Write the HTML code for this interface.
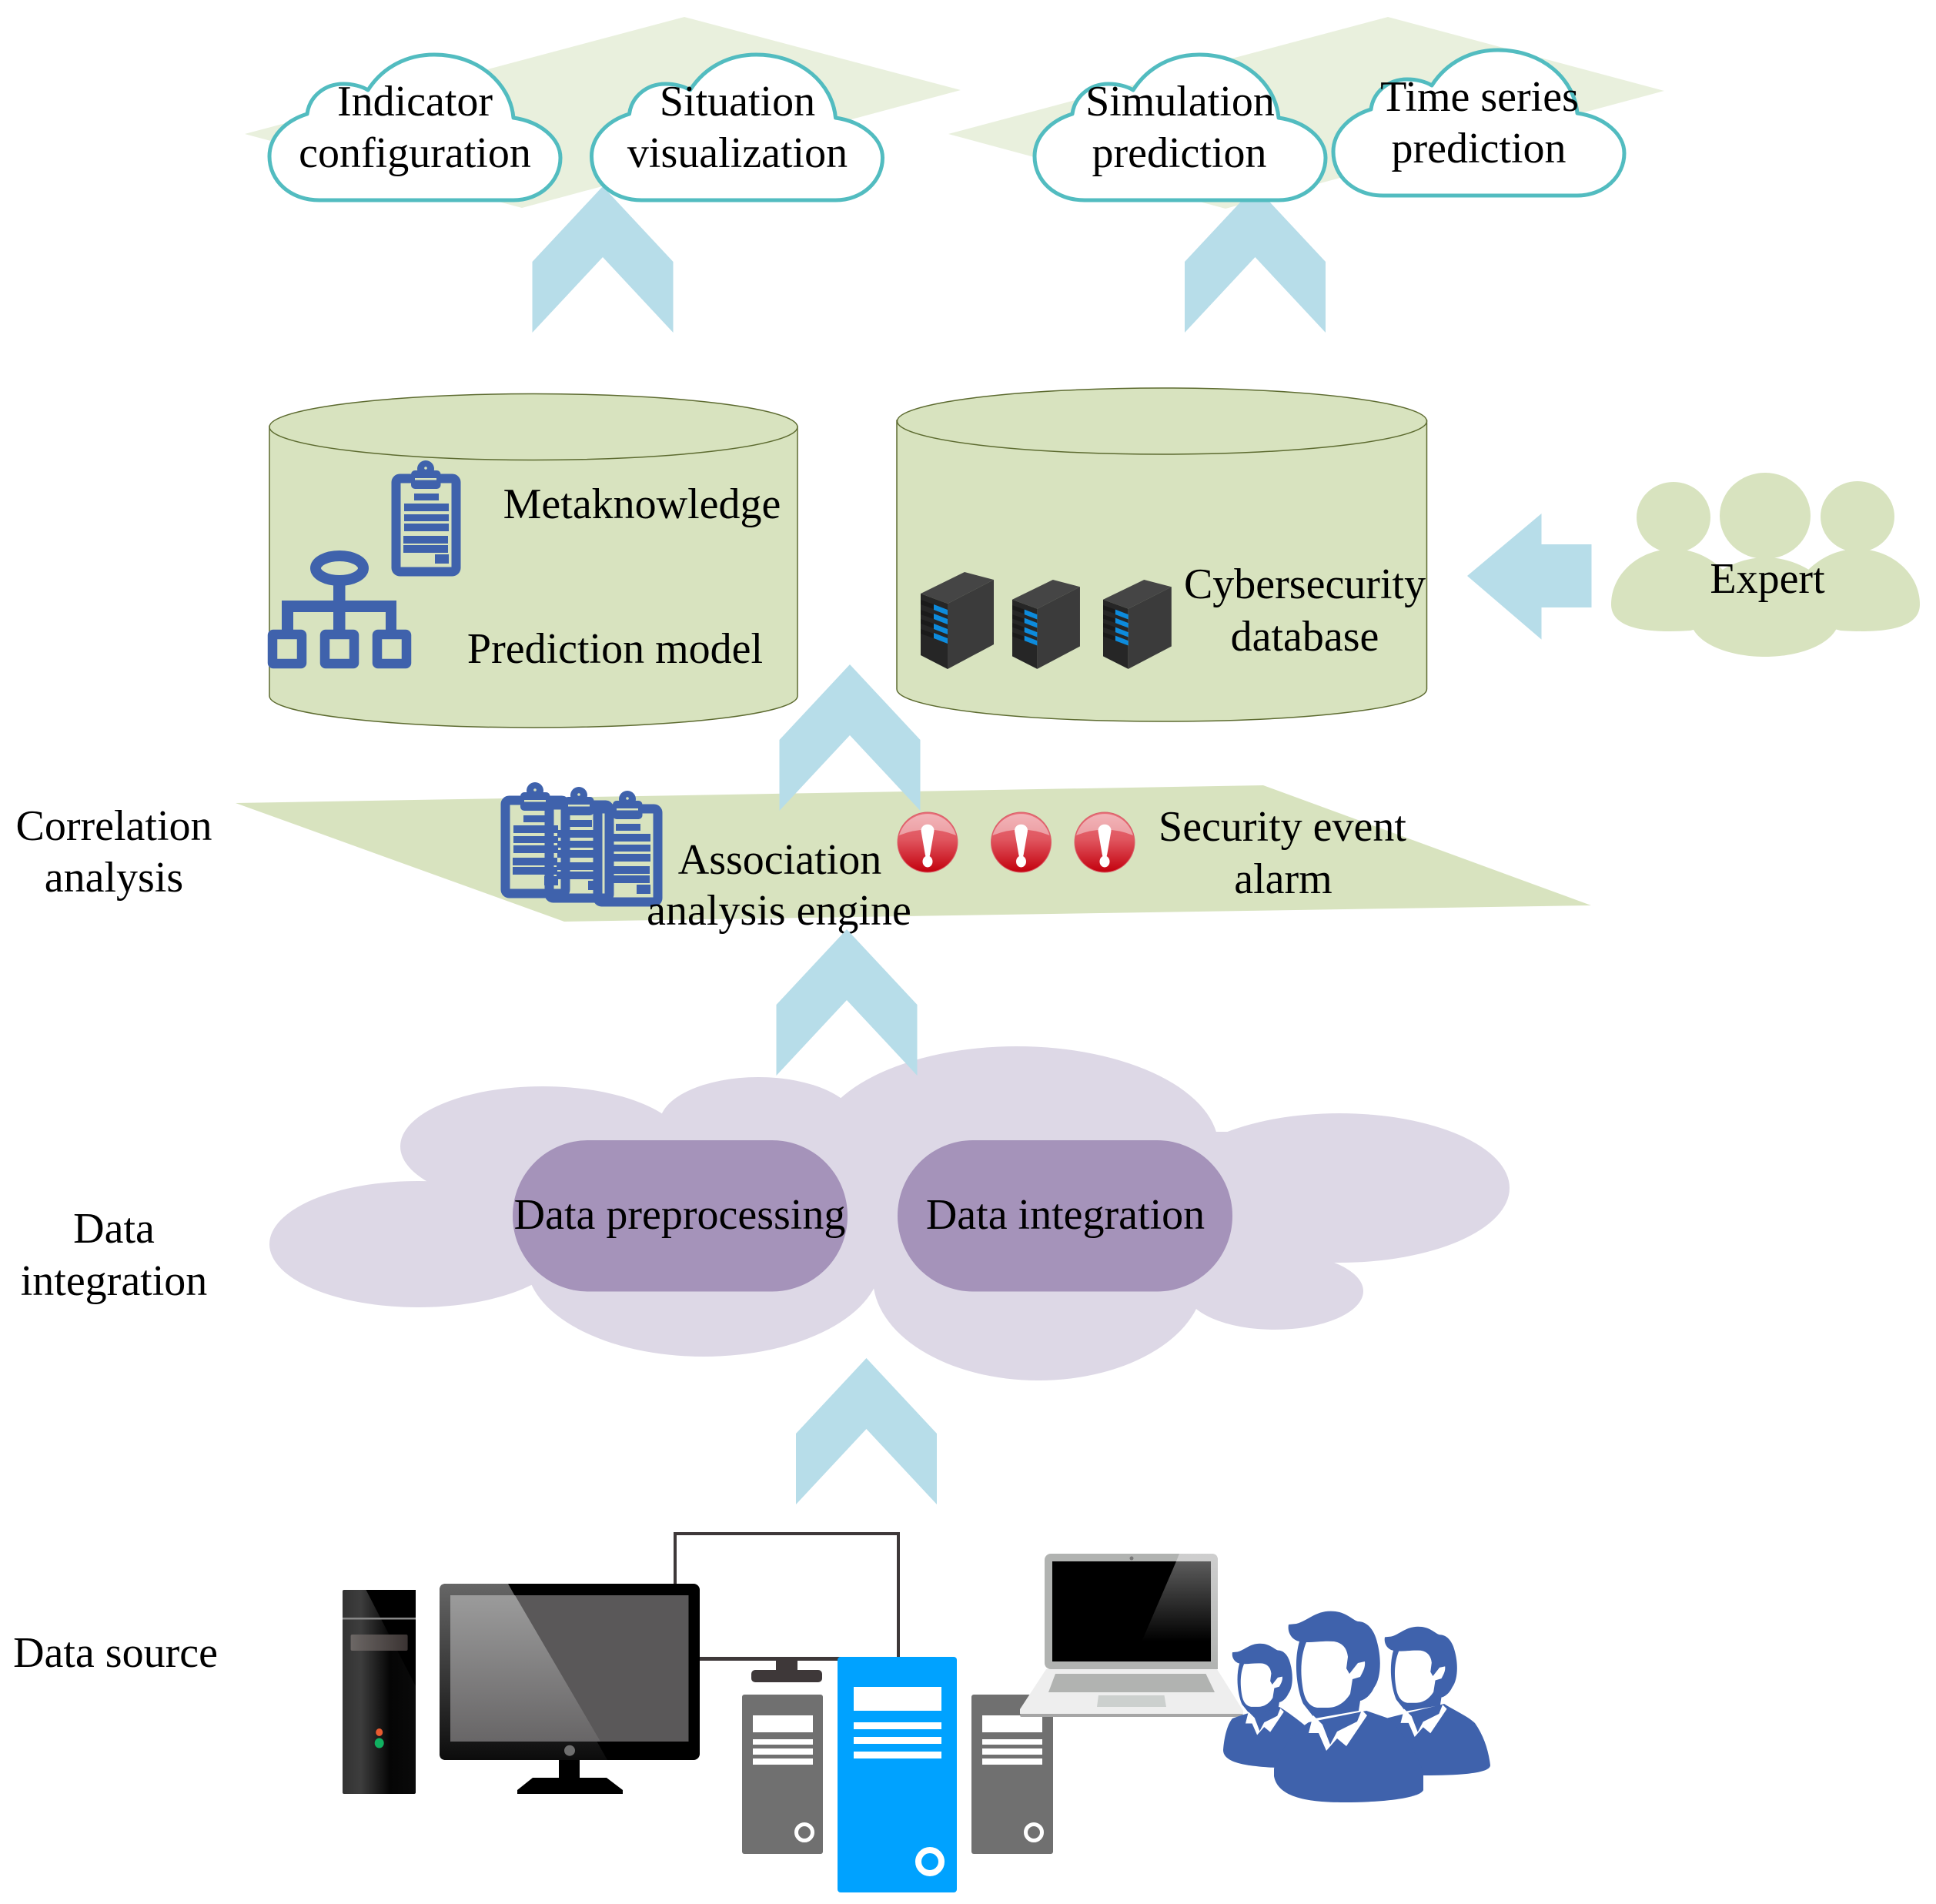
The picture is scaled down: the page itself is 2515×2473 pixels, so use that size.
<!DOCTYPE html>
<html><head><meta charset="utf-8"><style>
html,body{margin:0;padding:0;background:#fff}
svg{display:block}
text{font-family:"Liberation Serif",serif;font-size:56px;fill:#000;text-anchor:middle}
</style></head><body>
<svg width="2515" height="2473" viewBox="0 0 2515 2473" xmlns="http://www.w3.org/2000/svg">
<defs>
<path id="cl" d="M65,189 C27,189 0,164 0,132 C0,107 20,86 49,77 C52,54 72,38 96,38 C108,38 120,41 128,46 C148,15 180,0 214,0 C272,0 313,38 317,82 C352,87 378,109 378,134 C378,164 352,189 317,189 Z" fill="#fff" stroke="#52bcc0" stroke-width="5" stroke-linejoin="round"/>
<path id="chev" d="M0,0 L91.500,98 L91.500,190 L0,92 L-91.500,190 L-91.500,98 Z" fill="#b7dde9"/>
<g id="clip" fill="#3f62ac">
<rect x="5.500" y="5.500" width="78" height="121" rx="5" fill="none" stroke="#3f62ac" stroke-width="12"/>
<circle cx="44" cy="-7" r="11"/>
<rect x="25" y="-5" width="38.500" height="24" rx="5"/>
<rect x="30" y="5" width="28" height="2.500" fill="#d8e3bf"/>
<circle cx="44" cy="-8" r="1.800" fill="#d8e3bf"/>
<rect x="29" y="25" width="32" height="9"/>
<rect x="16" y="38" width="58" height="10"/>
<rect x="16" y="52" width="58" height="9"/>
<rect x="16" y="64" width="58" height="10"/>
<rect x="15" y="80" width="58" height="10"/>
<rect x="15" y="92" width="58" height="10"/>
<rect x="56" y="104" width="18" height="12"/>
</g>
<g id="srv">
<polygon points="0,28 57,0 95,10 35,41" fill="#454545"/>
<polygon points="0,28 35,41 35,126 0,108" fill="#262626"/>
<polygon points="35,41 95,10 95,94 35,126" fill="#3b3b3b"/>
<g fill="#1a1a1a"><polygon points="0,36 17,42 17,48 0,42"/><polygon points="0,49 17,55 17,61 0,55"/><polygon points="0,61 17,67 17,73 0,67"/><polygon points="0,74 17,80 17,86 0,80"/></g>
<g fill="#0d8bdc"><polygon points="17,42 35,49 35,56 17,49"/><polygon points="17,54 35,61 35,68 17,61"/><polygon points="17,67 35,74 35,81 17,74"/><polygon points="17,79 35,86 35,93 17,86"/></g>
</g>
<linearGradient id="ag" x1="0" y1="0" x2="0" y2="1"><stop offset="0" stop-color="#e8707a"/><stop offset=".45" stop-color="#e0565f"/><stop offset="1" stop-color="#c3000d"/></linearGradient>
<linearGradient id="ag2" x1="0" y1="0" x2="0" y2="1"><stop offset="0" stop-color="#f2b4b8"/><stop offset="1" stop-color="#ec9ea3"/></linearGradient>
<g id="al">
<circle cx="0" cy="0" r="39" fill="url(#ag)" stroke="#d9606a" stroke-width="1"/>
<path d="M-37,-9 A38.500,38.500 0 0 1 37,-9 Q0,-24 -37,-9 Z" fill="url(#ag2)"/>
<path d="M-8.500,-15 C-8.500,-26 8.500,-26 8.500,-15 L3,17 C2,20 -2,20 -3,17 Z" fill="#fff"/>
<ellipse cx="0" cy="25" rx="6.500" ry="7.500" fill="#fff"/>
</g>
<linearGradient id="tg" x1="0" y1="0" x2="1" y2="0"><stop offset="0" stop-color="#333"/><stop offset=".25" stop-color="#3d3d3d"/><stop offset=".65" stop-color="#050505"/><stop offset="1" stop-color="#0a0a0a"/></linearGradient>
<linearGradient id="sg" x1="0" y1="0" x2="1" y2="0"><stop offset="0" stop-color="#6c6765"/><stop offset="1" stop-color="#3a3332"/></linearGradient>
<linearGradient id="mg" x1="0" y1="0" x2="0" y2="1"><stop offset="0" stop-color="#9b9b9b"/><stop offset="1" stop-color="#686667"/></linearGradient>
<linearGradient id="bg" x1="0" y1="0" x2="0" y2="1"><stop offset="0" stop-color="#666"/><stop offset=".85" stop-color="#1a1a1a"/><stop offset="1" stop-color="#0c0c0c"/></linearGradient>
<linearGradient id="lg" x1="0" y1="0" x2="0" y2="1"><stop offset="0" stop-color="#5c5c5c"/><stop offset=".8" stop-color="#000"/></linearGradient>
<linearGradient id="lid" x1="0" y1="0" x2="0" y2="1"><stop offset="0" stop-color="#cfcfcf"/><stop offset="1" stop-color="#b1b3b1"/></linearGradient>
<g id="person">
<path d="M1674,2110 L1684,2109 C1700,2105 1710,2090 1735,2093 C1750,2095 1757,2104 1764,2106 C1778,2106 1786,2120 1789,2133 C1795,2155 1794,2180 1785,2192 C1780,2203 1772,2208 1767,2209 L1765,2222 L1708,2232 L1693,2213 C1685,2195 1680,2160 1688,2132 C1678,2130 1672,2120 1674,2110 Z" fill="#3f62ac"/>
<path d="M1697,2133 C1710,2133 1720,2131 1733,2132 C1745,2134 1750,2142 1751,2152 L1749,2167 L1753,2174 L1764,2160 L1773,2158 C1774,2166 1770,2172 1767,2178 L1757,2181 L1754,2200 C1748,2210 1738,2218 1725,2218 L1711,2218 C1699,2216 1694,2205 1692,2190 C1689,2170 1690,2150 1697,2133 Z" fill="#fff"/>
<path d="M1704,2235 L1700,2251 L1713,2251 L1723,2274 L1737,2258 L1749,2268 L1776,2228 L1769,2221 L1763,2236 L1737,2249 L1728,2266 L1718,2240 L1706,2228 Z" fill="#fff"/>
</g>
</defs>
<rect width="2515" height="2473" fill="#fff"/>

<polygon points="318,174 889,22 1248,117 678,270" fill="#e9f0dd"/>
<polygon points="1232,174 1803,22 2162,118 1592,271" fill="#e9f0dd"/>
<use href="#chev" x="783" y="242"/>
<use href="#chev" x="1630.500" y="242"/>
<use href="#cl" x="350" y="71"/>
<use href="#cl" x="768.500" y="71"/>
<use href="#cl" x="1344" y="71"/>
<use href="#cl" x="1732" y="65"/>
<text x="539" y="150">Indicator</text><text x="539" y="217">configuration</text>
<text x="958" y="150">Situation</text><text x="958" y="217">visualization</text>
<text x="1533" y="150">Simulation</text><text x="1532" y="217">prediction</text>
<text x="1922" y="144">Time series</text><text x="1921" y="211">prediction</text>

<g fill="#d8e3bf" stroke="#5d6b30" stroke-width="1.500">
<path d="M350,554 L350,904 C350,927 504,945 693,945 C882,945 1036,927 1036,904 L1036,554 Z"/>
<ellipse cx="693" cy="554.500" rx="343" ry="43"/>
<path d="M1165,546 L1165,895 C1165,919 1319,937 1509.500,937 C1700,937 1853.500,919 1853.500,895 L1853.500,546 Z"/>
<ellipse cx="1509.500" cy="547" rx="344" ry="43"/>
</g>
<use href="#clip" x="509" y="616"/>
<g fill="#3f62ac">
<ellipse cx="441" cy="738" rx="31" ry="16" fill="none" stroke="#3f62ac" stroke-width="14"/>
<rect x="433" y="757" width="15.500" height="62"/>
<rect x="366" y="780" width="149" height="15" rx="3"/>
<rect x="366" y="780" width="15" height="40"/>
<rect x="501" y="780" width="14" height="40"/>
</g>
<g fill="none" stroke="#3f62ac" stroke-width="12.500">
<rect x="354" y="824" width="38" height="38" rx="1"/>
<rect x="422" y="824" width="38" height="38" rx="1"/>
<rect x="490" y="824" width="38" height="38" rx="1"/>
</g>
<text x="834" y="673">Metaknowledge</text>
<text x="799" y="861">Prediction model</text>
<use href="#srv" transform="translate(1196,743)"/>
<use href="#srv" transform="translate(1315,753) scale(.926,.92)"/>
<use href="#srv" transform="translate(1433,753) scale(.935,.92)"/>
<text x="1695" y="777">Cybersecurity</text>
<text x="1695" y="845">database</text>

<polygon points="1906,748 2002.500,667 2002.500,707 2067.500,707 2067.500,789 2002.500,789 2002.500,830.600" fill="#b7dde9"/>
<g fill="#d8e3bf">
<ellipse cx="2174" cy="672" rx="48" ry="46"/>
<ellipse cx="2293" cy="670" rx="59" ry="56"/>
<ellipse cx="2413" cy="671" rx="48" ry="46"/>
<path d="M2093,785 C2093,745 2130,713 2174,713 C2220,713 2260,750 2270,800 L2196,819 C2150,822 2093,820 2093,785Z"/>
<path d="M2195,800 C2200,755 2250,724 2293,724 C2340,724 2385,755 2390,800 C2390,835 2340,853 2293,853 C2245,853 2195,835 2195,800Z"/>
<path d="M2494,785 C2494,745 2457,713 2413,713 C2367,713 2327,750 2317,800 L2391,819 C2437,822 2494,820 2494,785Z"/>
</g>
<text x="2296" y="770">Expert</text>

<polygon points="306,1043 1641,1020 2067,1176 733,1197" fill="#d8e3bf"/>
<use href="#chev" x="1104" y="863"/>
<use href="#clip" x="651" y="1034"/>
<use href="#clip" x="708" y="1040"/>
<use href="#clip" x="771" y="1045"/>
<use href="#al" x="1205" y="1094"/>
<use href="#al" x="1326.500" y="1094"/>
<use href="#al" x="1435" y="1094"/>
<text x="1013" y="1135">Association</text>
<text x="1012" y="1201">analysis engine</text>
<text x="1666" y="1092">Security event</text>
<text x="1667" y="1160">alarm</text>
<text x="148" y="1091">Correlation</text>
<text x="148" y="1158">analysis</text>

<g fill="#ddd8e6">
<ellipse cx="543" cy="1616" rx="193" ry="82"/>
<ellipse cx="705" cy="1489" rx="185" ry="78"/>
<ellipse cx="985" cy="1459" rx="128" ry="60"/>
<ellipse cx="1321" cy="1490" rx="262" ry="131"/>
<ellipse cx="1740" cy="1543" rx="221" ry="97"/>
<ellipse cx="1656" cy="1677" rx="115" ry="50"/>
<ellipse cx="1349" cy="1660" rx="215" ry="133"/>
<ellipse cx="914" cy="1640" rx="230" ry="122"/>
<rect x="700" y="1470" width="900" height="190"/>
<rect x="1560" y="1600" width="150" height="70"/>
</g>
<use href="#chev" x="1100" y="1207"/>
<use href="#chev" x="1125.500" y="1764"/>
<rect x="666" y="1481" width="435" height="196.500" rx="98" fill="#a593ba"/>
<rect x="1166" y="1481" width="435" height="196.500" rx="98" fill="#a593ba"/>
<text x="883" y="1596">Data preprocessing</text>
<text x="1384" y="1596">Data integration</text>
<text x="148" y="1614">Data</text>
<text x="148" y="1682">integration</text>
<text x="150" y="2165">Data source</text>

<rect x="445" y="2065" width="95" height="265" rx="2" fill="url(#tg)"/>
<polygon points="475.500,2065 540,2065 540,2190" fill="#000"/>
<rect x="445" y="2101" width="95" height="2.500" fill="#888"/>
<rect x="455.600" y="2123" width="74" height="21" rx="2" fill="url(#sg)"/>
<ellipse cx="492.700" cy="2250" rx="4.500" ry="5" fill="#e85b30"/>
<ellipse cx="492.700" cy="2264" rx="6" ry="6.500" fill="#10b060"/>

<path d="M877,2155 L877,1992 L1167,1992 L1167,2155 Z" fill="none" stroke="#3e3839" stroke-width="4"/>
<line x1="905" y1="2154.500" x2="1170" y2="2154.500" stroke="#3e3839" stroke-width="5"/>
<rect x="1008" y="2157" width="28" height="13" fill="#3e3839"/>
<rect x="976" y="2169" width="92" height="16" rx="5" fill="#3e3839"/>

<rect x="571" y="2057" width="338" height="229" rx="8" fill="#000"/>
<path d="M579,2057 L660,2057 L789,2286 L579,2286 Q571,2286 571,2278 L571,2065 Q571,2057 579,2057 Z" fill="url(#bg)"/>
<rect x="585" y="2072" width="309.500" height="190" fill="#5a5859"/>
<polygon points="585,2072 669,2072 780,2262 585,2262" fill="url(#mg)"/>
<ellipse cx="740" cy="2273.700" rx="7" ry="7" fill="#6e6e6e"/>
<rect x="726" y="2286" width="27" height="23" fill="#000"/>
<polygon points="692,2309 788,2309 809,2325 809,2330 672,2330 672,2325" fill="#000"/>

<rect x="964" y="2201" width="105" height="207" rx="3" fill="#707070"/>
<g fill="#fff"><rect x="978" y="2228" width="78" height="22"/><rect x="978" y="2259" width="78" height="7"/><rect x="978" y="2271" width="78" height="8"/><rect x="978" y="2284" width="78" height="8"/></g>
<circle cx="1045" cy="2380" r="10.500" fill="none" stroke="#fff" stroke-width="5"/>
<rect x="1262" y="2201" width="106" height="207" rx="3" fill="#707070"/>
<g fill="#fff"><rect x="1276" y="2228" width="78" height="22"/><rect x="1276" y="2259" width="78" height="7"/><rect x="1276" y="2271" width="78" height="8"/><rect x="1276" y="2284" width="78" height="8"/></g>
<circle cx="1343" cy="2380" r="10.500" fill="none" stroke="#fff" stroke-width="5"/>
<rect x="1088" y="2152" width="155" height="306" rx="4" fill="#00a2ff"/>
<g fill="#fff"><rect x="1109" y="2191" width="114" height="31"/><rect x="1109" y="2237" width="114" height="9"/><rect x="1109" y="2256" width="114" height="9"/><rect x="1109" y="2275" width="114" height="9"/></g>
<circle cx="1208" cy="2418" r="15" fill="none" stroke="#fff" stroke-width="8"/>

<rect x="1357" y="2018" width="225" height="150" rx="8" fill="#b1b3b1"/>
<path d="M1532,2018 L1574,2018 Q1582,2018 1582,2026 L1582,2168 L1573,2168 L1573,2028 L1528,2028 Z" fill="url(#lid)"/>
<rect x="1367" y="2028" width="206" height="130" fill="#000"/>
<polygon points="1528,2028 1573,2028 1573,2133 1472,2158" fill="url(#lg)"/>
<circle cx="1470" cy="2024" r="2.500" fill="#777"/>
<polygon points="1359,2168 1581,2168 1615,2222 1615,2226 1325,2226 1325,2220" fill="#eee"/>
<rect x="1325" y="2226" width="290" height="4" rx="2" fill="#a6a6a6"/>
<polygon points="1371,2174 1566.500,2174 1578,2198 1362,2198" fill="#b1b3b1"/>
<polygon points="1427,2202 1512.500,2202 1515,2217 1425,2217" fill="#ccd0ce"/>

<path d="M1601,2232 C1620,2225 1625,2224 1662,2217 C1675,2225 1695,2240 1705,2250 L1700,2296 L1657,2296 C1620,2294 1589,2290 1589,2273 C1590,2258 1594,2240 1601,2232 Z" fill="#3f62ac"/>
<path d="M1800,2232 L1876,2213 C1890,2222 1905,2228 1916,2238 C1928,2255 1934,2275 1936,2293 C1935,2303 1900,2306 1849,2306 L1800,2300 Z" fill="#3f62ac"/>
<path d="M1700,2237 L1775,2222 L1804,2232 C1830,2260 1845,2285 1849,2305 L1849,2325 C1845,2335 1800,2341 1746,2341 C1700,2341 1660,2335 1655,2307 L1655,2297 C1665,2270 1680,2250 1700,2237 Z" fill="#3f62ac"/>
<use href="#person" transform="translate(1601,2135) scale(.655) translate(-1674,-2093)"/>
<use href="#person" transform="translate(1799,2113) scale(.79) translate(-1674,-2093)"/>
<use href="#person"/>
</svg>
</body></html>
